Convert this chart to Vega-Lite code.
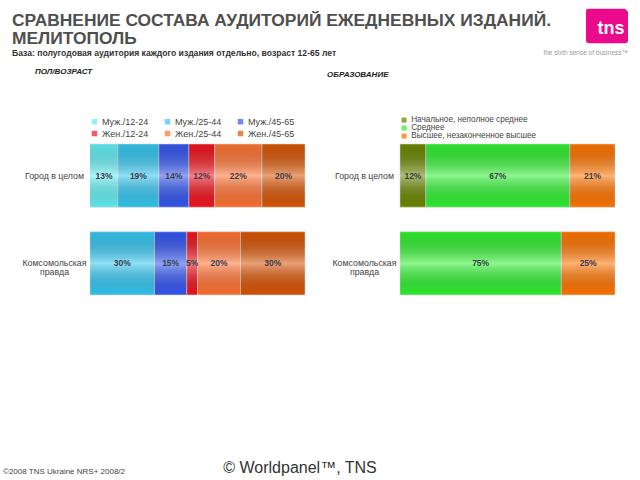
{
  "$schema": "https://vega.github.io/schema/vega-lite/v6.json",
  "padding": {"left": 3, "top": 8, "right": 5, "bottom": 3},
  "background": "white",
  "config": {
    "font": "Liberation Sans",
    "view": {"stroke": null},
    "axis": {"domain": false, "ticks": false, "tickSize": 0, "grid": false},
    "legend": {"labelFont": "Liberation Sans", "labelFontSize": 9, "labelColor": "#444", "symbolType": "square", "symbolSize": 30, "symbolStrokeWidth": 0, "padding": 0, "labelOffset": 3}
  },
  "bounds": "flush",
  "align": "each",
  "spacing": 135,
  "vconcat": [
    {
      "bounds": "flush",
      "align": "each",
      "spacing": 20,
      "hconcat": [
        {
          "width": 476,
          "height": 34,
          "title": {
            "text": ["СРАВНЕНИЕ СОСТАВА АУДИТОРИЙ ЕЖЕДНЕВНЫХ ИЗДАНИЙ.", "МЕЛИТОПОЛЬ"],
            "subtitle": "База: полугодовая аудитория каждого издания отдельно, возраст 12-65 лет",
            "anchor": "start",
            "frame": "group",
            "dx": -78,
            "offset": -49,
            "fontSize": 17.4,
            "fontWeight": "bold",
            "lineHeight": 18.5,
            "color": "#4f4f4f",
            "subtitleFontSize": 8.6,
            "subtitleFontWeight": "bold",
            "subtitleColor": "#333",
            "subtitlePadding": 2
          },
          "data": {"values": [{"t": ""}]},
          "mark": {"type": "text"},
          "encoding": {"text": {"field": "t"}}
        },
        {
          "width": 42,
          "height": 34,
          "title": {
            "text": "the sixth sense of business™",
            "orient": "bottom",
            "anchor": "end",
            "frame": "group",
            "offset": 7,
            "fontSize": 6.5,
            "fontWeight": "normal",
            "color": "#9a9a9a"
          },
          "data": {"values": [{"t": "tns"}]},
          "layer": [
            {
              "mark": {
                "type": "point",
                "filled": true,
                "opacity": 1,
                "color": "#ec0a8c",
                "size": 1764,
                "shape": "M-0.88,-0.82 L0.86,-0.82 L1,-0.68 L1,0.72 Q1,0.82 0.9,0.82 L-0.88,0.82 Q-1,0.82 -1,0.72 L-1,-0.72 Q-1,-0.82 -0.88,-0.82 Z"
              },
              "encoding": {}
            },
            {
              "mark": {"type": "text", "color": "white", "fontSize": 18, "fontWeight": "bold", "dx": 4, "dy": 3},
              "encoding": {"text": {"field": "t"}}
            }
          ]
        }
      ]
    },
    {
      "bounds": "flush",
      "align": "each",
      "spacing": 314,
      "vconcat": [
        {
          "bounds": "flush",
          "align": "each",
          "spacing": 95,
          "resolve": {"scale": {"color": "independent", "x": "independent", "y": "independent"}, "legend": {"color": "independent"}},
          "hconcat": [
            {
              "width": 215,
              "height": 151,
              "title": {"text": "ПОЛ/ВОЗРАСТ", "anchor": "start", "frame": "group", "dx": -55, "offset": 41, "fontSize": 8, "fontStyle": "italic", "fontWeight": "bold", "color": "#222"},
              "data": {"values": [
                {"g": "Город в целом", "c": "Муж./12-24", "v": 0.13, "i": 1},
                {"g": "Город в целом", "c": "Муж./25-44", "v": 0.19, "i": 2},
                {"g": "Город в целом", "c": "Муж./45-65", "v": 0.14, "i": 3},
                {"g": "Город в целом", "c": "Жен./12-24", "v": 0.12, "i": 4},
                {"g": "Город в целом", "c": "Жен./25-44", "v": 0.22, "i": 5},
                {"g": "Город в целом", "c": "Жен./45-65", "v": 0.20, "i": 6},
                {"g": "Комсомольская правда", "c": "Муж./25-44", "v": 0.30, "i": 2},
                {"g": "Комсомольская правда", "c": "Муж./45-65", "v": 0.15, "i": 3},
                {"g": "Комсомольская правда", "c": "Жен./12-24", "v": 0.05, "i": 4},
                {"g": "Комсомольская правда", "c": "Жен./25-44", "v": 0.20, "i": 5},
                {"g": "Комсомольская правда", "c": "Жен./45-65", "v": 0.30, "i": 6}
              ]},
              "encoding": {
                "y": {
                  "field": "g", "type": "nominal", "title": null,
                  "sort": ["Город в целом", "Комсомольская правда"],
                  "scale": {"paddingInner": 0.28, "paddingOuter": 0},
                  "axis": {"labelAlign": "center", "labelPadding": 36, "labelFontSize": 8.8, "labelColor": "#444", "labelLineHeight": 9, "labelBaseline": "middle",
                    "labelExpr": "datum.value == 'Комсомольская правда' ? ['Комсомольская', 'правда'] : datum.label"}
                }
              },
              "layer": [
                {
                  "mark": {"type": "bar", "stroke": "#d8d8d8", "strokeWidth": 0.6, "opacity": 1},
                  "encoding": {
                    "x": {"field": "v", "type": "quantitative", "stack": "zero", "scale": {"domain": [0, 1]}, "axis": null},
                    "color": {
                      "field": "c", "type": "nominal",
                      "scale": {"domain": ["Муж./12-24", "Муж./25-44", "Муж./45-65", "Жен./12-24", "Жен./25-44", "Жен./45-65"],
                                "range": ["#62eef2", "#34c6f0", "#3557f0", "#f0141e", "#ff7232", "#d85404"]},
                      "legend": {"title": null, "orient": "top", "columns": 3, "direction": "horizontal", "columnPadding": 14, "rowPadding": 2, "offset": 5, "symbolOpacity": 0.7}
                    },
                    "order": {"field": "i"}
                  }
                },
                {
                  "mark": {"type": "bar", "fill": {"gradient": "linear", "x1": 0, "y1": 0, "x2": 0, "y2": 1,
                    "stops": [{"offset": 0, "color": "rgba(0,0,0,0.06)"}, {"offset": 0.5, "color": "rgba(255,255,255,0.45)"}, {"offset": 1, "color": "rgba(0,0,0,0.03)"}]}},
                  "encoding": {
                    "x": {"field": "v", "type": "quantitative", "stack": "zero"},
                    "detail": {"field": "c"},
                    "order": {"field": "i"}
                  }
                },
                {
                  "mark": {"type": "text", "fontSize": 8.5, "fontWeight": "bold", "color": "#3a3d4a"},
                  "encoding": {
                    "x": {"field": "v", "type": "quantitative", "stack": "zero", "bandPosition": 0.5},
                    "detail": {"field": "c"},
                    "order": {"field": "i"},
                    "text": {"field": "v", "format": ".0%"}
                  }
                }
              ]
            },
            {
              "width": 215,
              "height": 151,
              "title": {"text": "ОБРАЗОВАНИЕ", "anchor": "start", "frame": "group", "dx": -73, "offset": 37, "fontSize": 8, "fontStyle": "italic", "fontWeight": "bold", "color": "#222"},
              "data": {"values": [
                {"g": "Город в целом", "c": "Начальное, неполное среднее", "v": 0.12, "i": 1},
                {"g": "Город в целом", "c": "Среднее", "v": 0.67, "i": 2},
                {"g": "Город в целом", "c": "Высшее, незаконченное высшее", "v": 0.21, "i": 3},
                {"g": "Комсомольская правда", "c": "Среднее", "v": 0.75, "i": 2},
                {"g": "Комсомольская правда", "c": "Высшее, незаконченное высшее", "v": 0.25, "i": 3}
              ]},
              "encoding": {
                "y": {
                  "field": "g", "type": "nominal", "title": null,
                  "sort": ["Город в целом", "Комсомольская правда"],
                  "scale": {"paddingInner": 0.28, "paddingOuter": 0},
                  "axis": {"labelAlign": "center", "labelPadding": 36, "labelFontSize": 8.8, "labelColor": "#444", "labelLineHeight": 9, "labelBaseline": "middle",
                    "labelExpr": "datum.value == 'Комсомольская правда' ? ['Комсомольская', 'правда'] : datum.label"}
                }
              },
              "layer": [
                {
                  "mark": {"type": "bar", "stroke": "#d8d8d8", "strokeWidth": 0.6, "opacity": 1},
                  "encoding": {
                    "x": {"field": "v", "type": "quantitative", "stack": "zero", "scale": {"domain": [0, 1]}, "axis": null},
                    "color": {
                      "field": "c", "type": "nominal",
                      "scale": {"domain": ["Начальное, неполное среднее", "Среднее", "Высшее, незаконченное высшее"],
                                "range": ["#6a8800", "#30f030", "#ff7400"]},
                      "legend": {"title": null, "orient": "top", "direction": "vertical", "columns": 1, "labelFontSize": 8.2, "symbolSize": 25, "rowPadding": -1.5, "offset": 4, "symbolOpacity": 0.75}
                    },
                    "order": {"field": "i"}
                  }
                },
                {
                  "mark": {"type": "bar", "fill": {"gradient": "linear", "x1": 0, "y1": 0, "x2": 0, "y2": 1,
                    "stops": [{"offset": 0, "color": "rgba(0,0,0,0.06)"}, {"offset": 0.5, "color": "rgba(255,255,255,0.45)"}, {"offset": 1, "color": "rgba(0,0,0,0.03)"}]}},
                  "encoding": {
                    "x": {"field": "v", "type": "quantitative", "stack": "zero"},
                    "detail": {"field": "c"},
                    "order": {"field": "i"}
                  }
                },
                {
                  "mark": {"type": "text", "fontSize": 8.5, "fontWeight": "bold", "color": "#3a3d4a"},
                  "encoding": {
                    "x": {"field": "v", "type": "quantitative", "stack": "zero", "bandPosition": 0.5},
                    "detail": {"field": "c"},
                    "order": {"field": "i"},
                    "text": {"field": "v", "format": ".0%"}
                  }
                }
              ]
            }
          ]
        },
        {
          "width": 420,
          "height": 20,
          "title": {"text": "©2008 TNS Ukraine  NRS+ 2008/2", "orient": "bottom", "anchor": "start", "frame": "group", "dx": -87, "offset": -10, "fontSize": 8, "fontWeight": "normal", "color": "#444"},
          "data": {"values": [{"t": "© Worldpanel™, TNS"}]},
          "mark": {"type": "text", "fontSize": 16, "color": "#333"},
          "encoding": {"text": {"field": "t"}}
        }
      ]
    }
  ]
}
